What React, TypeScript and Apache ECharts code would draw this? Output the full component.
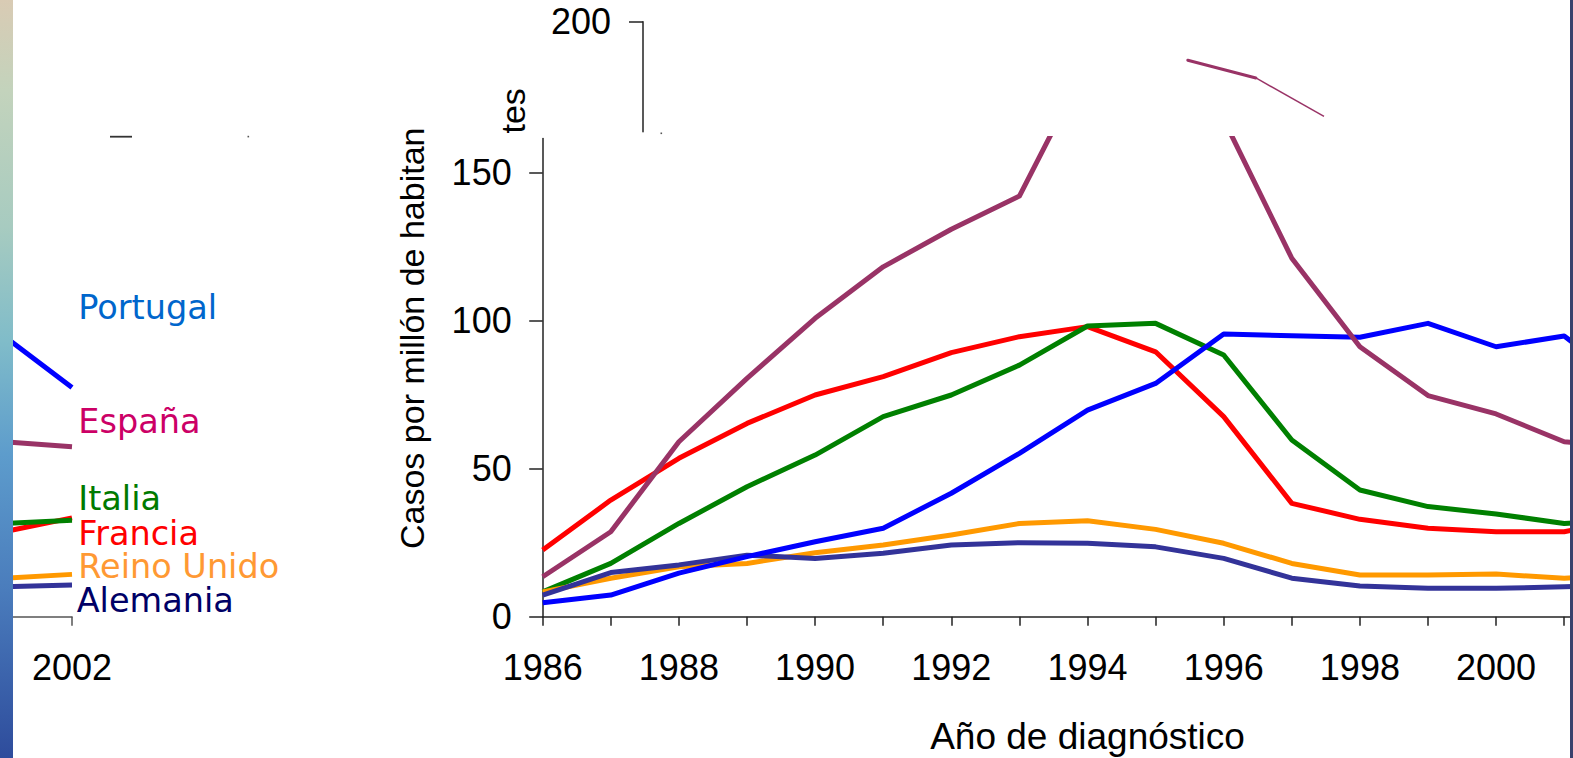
import React, { useEffect, useRef } from "react";
import * as echarts from "echarts";

// ---- data (casos por millón de habitantes) ----
const years = [1986, 1987, 1988, 1989, 1990, 1991, 1992, 1993, 1994, 1995, 1996, 1997, 1998, 1999, 2000, 2001, 2002];
const portugal = [4.7, 7.3, 14.7, 20.3, 25.3, 29.9, 41.7, 55.2, 69.8, 78.8, 95.5, 94.9, 94.4, 99.1, 91.2, 94.8, 77.4];
const espana = [13.5, 28.7, 59.1, 80.5, 100.8, 118.2, 130.9, 142.1, 187, 181, 168, 121.1, 91.2, 74.7, 68.5, 59.1, 57.4];
const italia = [8.4, 18, 31.5, 43.9, 54.6, 67.6, 74.9, 85, 98.2, 99.1, 88.4, 59.7, 42.8, 37.2, 34.7, 31.5, 32.6];
const francia = [22.5, 39.4, 53.5, 65.3, 74.9, 81.1, 89.2, 94.6, 98, 89.5, 67.6, 38.3, 32.9, 29.9, 28.7, 28.7, 33.4];
const reinoUnido = [8.4, 13, 16.9, 18, 21.6, 24.2, 27.6, 31.5, 32.4, 29.5, 24.8, 18, 14.1, 14.1, 14.4, 13, 14.3];
const alemania = [7.3, 14.9, 17.5, 20.8, 19.7, 21.4, 24.2, 25, 24.8, 23.6, 19.7, 13, 10.4, 9.6, 9.6, 10.1, 10.7];

const yTickValues = [0, 50, 100, 150];
const topTickValues = [200];
const mainXLabels = [1986, 1988, 1990, 1992, 1994, 1996, 1998, 2000];
const wrapXLabels = [2002];
const wrapXTicks = [2001, 2002];
const legendNames = ["Portugal", "España", "Italia", "Francia", "Reino Unido", "Alemania"];
const yTitle = "Casos por millón de habitan";
const yTitleEnd = "tes";
const xTitle = "Año de diagnóstico";

const pairs = (vals: number[]) => years.map((y, i) => [y, vals[i]]);
const slice = (vals: number[], from: number, to: number) =>
  years
    .map((y, i) => [y, vals[i]])
    .filter((p) => p[0] >= from && p[0] <= to);

export default function App() {
  const ref = useRef<HTMLDivElement>(null);

  useEffect(() => {
    if (!ref.current) return;
    const chart = echarts.init(ref.current, undefined, { renderer: "svg" });

    const H = 758;
    const x0 = 542.7; // 1986
    const pxYear = 68.1;
    const axisW = pxYear * 16; // 1986..2002
    const yZero = 616.7;
    const pxUnit = 2.96;
    const mainTop = 138.5;
    const mainMax = (yZero - mainTop) / pxUnit;
    const topTop = 21.7;
    const topBottom = 131.7;
    const topMin = 200 - (topBottom - topTop) / pxUnit;
    const shiftTop = 100.3;
    const wrapLeft = 72 - axisW;

    const font = "Liberation Sans";
    const plain = (v: number) => String(Math.round(v));
    const seriesDefs = [
      { name: "Francia", data: francia, color: "#ff0000" },
      { name: "Italia", data: italia, color: "#008000" },
      { name: "Reino Unido", data: reinoUnido, color: "#ff9900" },
      { name: "Alemania", data: alemania, color: "#333399" },
      { name: "Portugal", data: portugal, color: "#0000ff" },
      { name: "España", data: espana, color: "#993366" },
    ];

    const xAxisFor = (
      gridIndex: number,
      lineColor: string,
      withName: boolean,
      labelValues: number[],
      tickValues?: number[]
    ) => ({
      type: "value",
      gridIndex,
      min: 1986,
      max: 2002,
      interval: 1,
      name: withName ? xTitle : "",
      nameLocation: "middle",
      nameGap: 101,
      nameTextStyle: { fontSize: 37, fontFamily: font, color: "#000" },
      axisLine: { show: true, onZero: false, lineStyle: { color: lineColor, width: 1.5 } },
      axisTick: {
        show: true,
        inside: false,
        length: 9,
        ...(tickValues ? { customValues: tickValues } : {}),
        lineStyle: { color: lineColor, width: 1.5 },
      },
      axisLabel: {
        margin: 33,
        fontSize: 36,
        fontFamily: font,
        color: "#000",
        customValues: labelValues,
        formatter: plain,
      },
      splitLine: { show: false },
    });

    const lineSeries = (xi: number, yi: number) =>
      seriesDefs.map((s) => ({
        type: "line",
        name: s.name,
        xAxisIndex: xi,
        yAxisIndex: yi,
        data: pairs(s.data),
        showSymbol: false,
        symbol: "none",
        clip: true,
        lineStyle: { color: s.color, width: 5, join: "round" },
        itemStyle: { color: s.color },
        emphasis: { disabled: true },
        silent: true,
      }));

    const legendColors = ["#0066cc", "#cc0066", "#007a00", "#ff0000", "#ff9933", "#000066"];
    const legendY = [307, 421, 498.7, 533, 566.7, 600.5];
    const legendX = [78.3, 78.3, 78.3, 78.3, 78.3, 76.7];
    const gridHeight = yZero - mainTop;

    chart.setOption({
      animation: false,
      backgroundColor: "#ffffff",
      grid: [
        { left: x0, top: mainTop, width: axisW, height: gridHeight, outerBoundsMode: "none", containLabel: false },
        { left: wrapLeft, top: mainTop, width: axisW, height: gridHeight, outerBoundsMode: "none", containLabel: false },
        {
          left: x0 + shiftTop,
          top: topTop,
          width: axisW,
          height: topBottom - topTop,
          outerBoundsMode: "none",
          containLabel: false,
        },
      ],
      xAxis: [
        xAxisFor(0, "#222", true, mainXLabels),
        xAxisFor(1, "#555", false, wrapXLabels, wrapXTicks),
        { type: "value", gridIndex: 2, min: 1986, max: 2002, show: false },
      ],
      yAxis: [
        {
          type: "value",
          gridIndex: 0,
          min: 0,
          max: mainMax,
          axisLine: { show: true, lineStyle: { color: "#222", width: 1.5 } },
          axisTick: { show: true, length: 13.5, customValues: yTickValues, lineStyle: { color: "#222", width: 1.5 } },
          axisLabel: {
            margin: 31,
            fontSize: 36,
            fontFamily: font,
            color: "#000",
            customValues: yTickValues,
            formatter: plain,
          },
          splitLine: { show: false },
        },
        { type: "value", gridIndex: 1, min: 0, max: mainMax, show: false },
        {
          type: "value",
          gridIndex: 2,
          min: topMin,
          max: 200,
          axisLine: { show: true, lineStyle: { color: "#222", width: 1.5 } },
          axisTick: { show: true, length: 14, customValues: topTickValues, lineStyle: { color: "#222", width: 1.5 } },
          axisLabel: {
            margin: 32,
            fontSize: 36,
            fontFamily: font,
            color: "#000",
            customValues: topTickValues,
            formatter: plain,
          },
          splitLine: { show: false },
        },
      ],
      series: [
        ...lineSeries(0, 0),
        ...lineSeries(1, 1),
        {
          type: "line",
          xAxisIndex: 2,
          yAxisIndex: 2,
          data: slice(espana, 1994, 1995),
          showSymbol: false,
          symbol: "none",
          lineStyle: { color: "#993366", width: 3, cap: "round" },
          silent: true,
        },
        {
          type: "line",
          xAxisIndex: 2,
          yAxisIndex: 2,
          data: slice(espana, 1995, 1996),
          showSymbol: false,
          symbol: "none",
          lineStyle: { color: "#993366", width: 1.5 },
          silent: true,
        },
      ],
      graphic: [
        {
          type: "rect",
          z: 100,
          shape: { x: 0, y: 0, width: 13, height: H },
          style: {
            fill: new echarts.graphic.LinearGradient(0, 0, 0, 1, [
              { offset: 0, color: "#d9cbb4" },
              { offset: 0.12, color: "#c3d3bc" },
              { offset: 0.3, color: "#a7cbc0" },
              { offset: 0.45, color: "#80bcc9" },
              { offset: 0.6, color: "#5d9ccc" },
              { offset: 0.78, color: "#4a7cbc" },
              { offset: 1, color: "#2e4c9c" },
            ]),
          },
          silent: true,
        },
        {
          type: "rect",
          z: 100,
          shape: { x: 1570, y: 0, width: 3, height: H },
          style: { fill: "#3a416c" },
          silent: true,
        },
        {
          type: "rect",
          z: 100,
          shape: { x: 110, y: 135.8, width: 22, height: 1.8 },
          style: { fill: "#333" },
          silent: true,
        },
        {
          type: "rect",
          z: 100,
          shape: { x: 247.5, y: 135.8, width: 1.6, height: 1.6 },
          style: { fill: "#555" },
          silent: true,
        },
        {
          type: "rect",
          z: 100,
          shape: { x: 660.5, y: 132.5, width: 1.6, height: 1.6 },
          style: { fill: "#555" },
          silent: true,
        },
        {
          type: "text",
          z: 100,
          x: 411.5,
          y: 549,
          rotation: Math.PI / 2,
          style: {
            text: yTitle,
            fontSize: 34,
            fontFamily: font,
            fill: "#000",
            align: "left",
            textAlign: "left",
            verticalAlign: "middle",
            textVerticalAlign: "middle",
          },
          silent: true,
        },
        {
          type: "text",
          z: 100,
          x: 512.5,
          y: 133.5,
          rotation: Math.PI / 2,
          style: {
            text: yTitleEnd,
            fontSize: 34,
            fontFamily: font,
            fill: "#000",
            align: "left",
            textAlign: "left",
            verticalAlign: "middle",
            textVerticalAlign: "middle",
          },
          silent: true,
        },
        ...legendNames.map((n, i) => ({
          type: "text",
          z: 100,
          x: legendX[i],
          y: legendY[i],
          style: {
            text: n,
            fontSize: 33.5,
            lineHeight: 30,
            fontFamily: "DejaVu Sans",
            fill: legendColors[i],
            align: "left",
            textAlign: "left",
            verticalAlign: "middle",
            textVerticalAlign: "middle",
          },
          silent: true,
        })),
      ],
    });

    return () => {
      chart.dispose();
    };
  }, []);

  return (
    <div
      ref={ref}
      style={{ position: "fixed", left: 0, top: 0, width: 1573, height: 758, background: "#fff" }}
    />
  );
}
